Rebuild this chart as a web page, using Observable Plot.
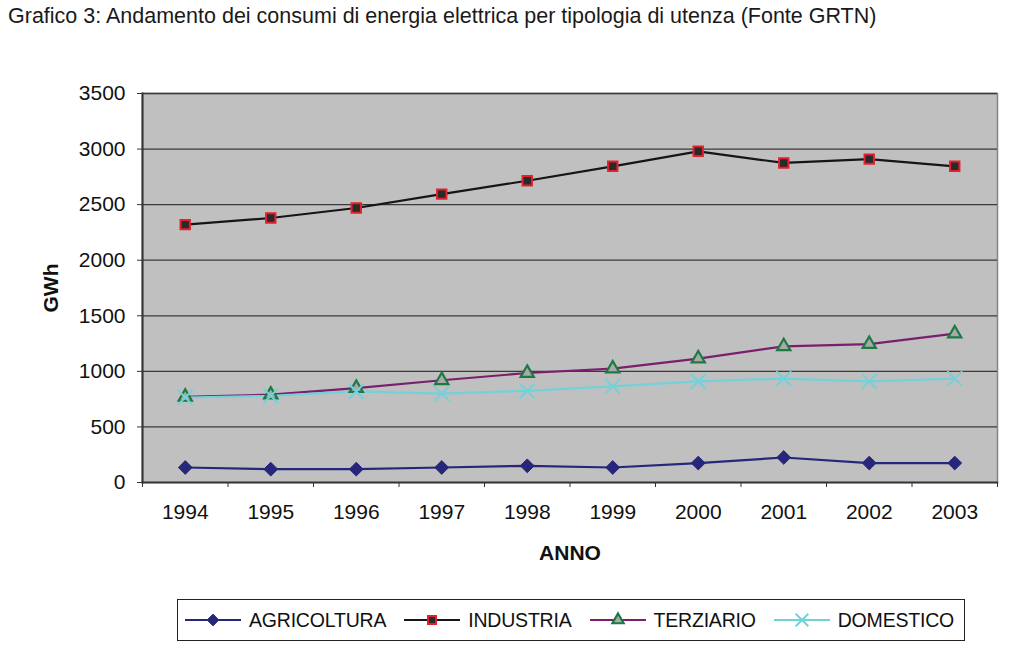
<!DOCTYPE html>
<html>
<head>
<meta charset="utf-8">
<script src="https://cdn.jsdelivr.net/npm/d3@7"></script>
<script src="https://cdn.jsdelivr.net/npm/@observablehq/plot@0.6"></script>
<style>
  body { margin: 0; background: #fff; font-family: "Liberation Sans", Arial, sans-serif; }
  #wrap { position: relative; width: 1024px; height: 667px; overflow: hidden; background: #fff; }
  #title { position: absolute; left: 8px; top: 4px; font-size: 21.5px; color: #1a1a1a; white-space: nowrap; }
  #chart { position: absolute; left: 0; top: 40px; }
  #legend { position: absolute; left: 177px; top: 599px; width: 786px; height: 40px;
            border: 1px solid #222; display: flex; align-items: center; box-sizing: content-box; }
  .item { display: flex; align-items: center; margin-left: 7px; margin-right: 11px; }
  .item span { font-size: 19.5px; color: #111; margin-left: 8px; letter-spacing: -0.2px; }
  g[aria-label="x-axis label"] text, g[aria-label="y-axis label"] text,
  g[aria-label="x-axis label"], g[aria-label="y-axis label"] { font-weight: bold; }
</style>
</head>
<body>
<div id="wrap">
  <div id="title">Grafico 3: Andamento dei consumi di energia elettrica per tipologia di utenza (Fonte GRTN)</div>
  <div id="chart"></div>
  <div id="legend"></div>
</div>
<script>
// ---- data ----
const years = [1994, 1995, 1996, 1997, 1998, 1999, 2000, 2001, 2002, 2003];
const agricoltura = [135, 120, 120, 135, 150, 135, 175, 225, 175, 175];
const industria   = [2320, 2380, 2470, 2595, 2715, 2845, 2980, 2875, 2910, 2845];
const terziario   = [770, 790, 850, 920, 985, 1025, 1115, 1225, 1245, 1340];
const domestico   = [765, 780, 820, 800, 825, 865, 910, 935, 910, 935];
const seriesNames = ["AGRICOLTURA", "INDUSTRIA", "TERZIARIO", "DOMESTICO"];
const yTicks = [0, 500, 1000, 1500, 2000, 2500, 3000, 3500];

// ---- styles ----
const styles = {
  AGRICOLTURA: { line: "#26267a", symbol: "diamond2", fill: "#26267a", stroke: "#26267a", r: 6.2, sw: 1 },
  INDUSTRIA:   { line: "#151515", symbol: "square",   fill: "#2a2a2a", stroke: "#e2212b", r: 5.3, sw: 2 },
  TERZIARIO:   { line: "#7a1f6e", symbol: "triangle2", fill: "#a9a9a9", stroke: "#1d7a45", r: 6.3, sw: 2.2 },
  DOMESTICO:   { line: "#72d2da", symbol: "times",    fill: "none",    stroke: "#72d2da", r: 6.8, sw: 2 }
};

const values = [agricoltura, industria, terziario, domestico];
const rows = [];
seriesNames.forEach((s, i) => years.forEach((y, j) => rows.push({ serie: s, anno: y, gwh: values[i][j] })));

const bounds = years.map(y => y - 0.5).concat([years[years.length - 1] + 0.5]);

const lineMarks = seriesNames.map(s => Plot.line(rows.filter(d => d.serie === s), {
  x: "anno", y: "gwh", stroke: styles[s].line, strokeWidth: 2.2
}));
const dotMarks = seriesNames.map(s => Plot.dot(rows.filter(d => d.serie === s), {
  x: "anno", y: "gwh", symbol: styles[s].symbol, r: styles[s].r,
  fill: styles[s].fill, stroke: styles[s].stroke, strokeWidth: styles[s].sw
}));

const chart = Plot.plot({
  width: 1024, height: 540,
  marginLeft: 142, marginRight: 27, marginTop: 53, marginBottom: 98,
  style: { fontFamily: "'Liberation Sans', Arial, sans-serif", fontSize: "21px", color: "#111", background: "transparent" },
  x: { domain: [bounds[0], bounds[bounds.length - 1]] },
  y: { domain: [0, 3500] },
  marks: [
    Plot.frame({ fill: "#c0c0c0", stroke: "#858585", strokeWidth: 1.5 }),
    Plot.gridY(yTicks, { stroke: "#3a3a3a", strokeOpacity: 1, strokeWidth: 1.3 }),
    Plot.frame({ anchor: "left", stroke: "#333", strokeWidth: 2 }),
    Plot.frame({ anchor: "bottom", stroke: "#333", strokeWidth: 1.5 }),
    Plot.axisY(yTicks, { tickSize: 5, tickPadding: 12, tickFormat: "d", fontSize: 21,
      label: "GWh", labelAnchor: "center", labelOffset: 99, labelArrow: "none", stroke: "#333" }),
    Plot.axisX(bounds, { tickSize: 5, tickFormat: () => "", label: null, stroke: "#333" }),
    Plot.axisX(years, { tickSize: 0, tickPadding: 22, tickFormat: "d", fontSize: 21,
      label: "ANNO", labelAnchor: "center", labelOffset: 77, labelArrow: "none" }),
    ...lineMarks,
    ...dotMarks
  ]
});
document.getElementById("chart").appendChild(chart);

// ---- legend ----
const legend = document.getElementById("legend");
seriesNames.forEach(s => {
  const st = styles[s];
  const item = document.createElement("div");
  item.className = "item";
  const ns = "http://www.w3.org/2000/svg";
  const svg = document.createElementNS(ns, "svg");
  svg.setAttribute("width", 56); svg.setAttribute("height", 20);
  const ln = document.createElementNS(ns, "line");
  ln.setAttribute("x1", 0); ln.setAttribute("x2", 56); ln.setAttribute("y1", 10); ln.setAttribute("y2", 10);
  ln.setAttribute("stroke", st.line); ln.setAttribute("stroke-width", 2);
  svg.appendChild(ln);
  const symMap = { diamond2: d3.symbolDiamond2, square: d3.symbolSquare, triangle2: d3.symbolTriangle2, times: d3.symbolTimes };
  const p = document.createElementNS(ns, "path");
  const rr = st.r * 0.85;
  p.setAttribute("d", d3.symbol(symMap[st.symbol], rr * rr * Math.PI)());
  p.setAttribute("transform", "translate(28,10)");
  p.setAttribute("fill", st.fill); p.setAttribute("stroke", st.stroke); p.setAttribute("stroke-width", st.sw);
  svg.appendChild(p);
  item.appendChild(svg);
  const sp = document.createElement("span");
  sp.textContent = s;
  item.appendChild(sp);
  legend.appendChild(item);
});
</script>
</body>
</html>
